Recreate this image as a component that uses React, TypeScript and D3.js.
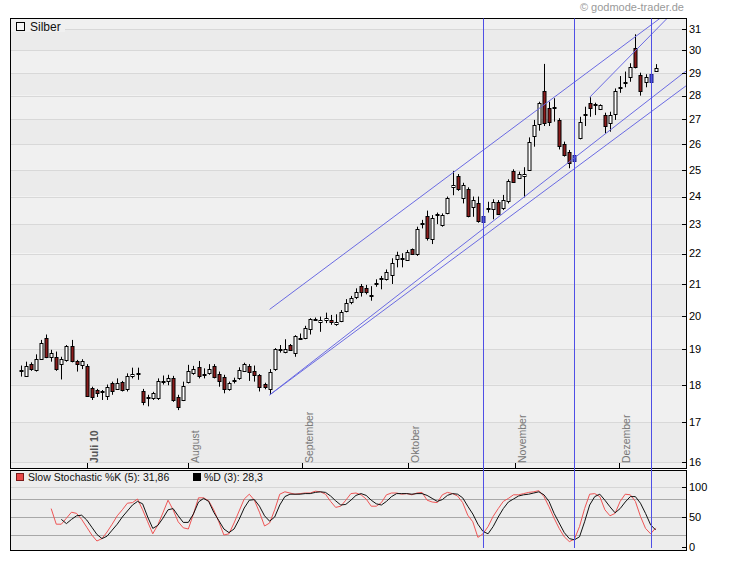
import React from 'react';
import * as d3 from 'd3';

const opens = [18.39,18.26,18.58,18.42,18.72,19.34,18.78,18.78,18.58,18.70,19.11,18.67,18.56,18.53,17.91,17.86,17.81,17.71,18.04,17.89,18.07,17.88,18.26,18.31,17.84,17.66,17.63,17.63,18.08,18.11,18.18,17.68,17.59,18.09,18.32,18.49,18.29,18.34,18.53,18.30,18.23,17.88,18.13,18.20,18.40,18.53,18.39,18.28,18.02,17.88,18.44,19.00,18.94,19.13,18.91,19.33,19.33,19.59,19.89,19.81,19.88,19.88,19.75,19.85,20.15,20.44,20.60,20.93,20.86,20.64,21.01,21.17,21.15,21.28,21.82,21.83,21.78,22.15,21.97,23.03,23.30,22.48,23.36,22.98,23.39,24.34,24.77,23.96,24.27,23.63,23.78,23.10,23.56,23.55,23.79,23.59,23.85,24.95,24.70,24.77,24.99,26.32,26.80,28.20,27.46,27.48,26.98,25.99,25.68,25.35,26.26,27.20,27.70,27.62,27.43,27.18,26.84,27.21,28.37,28.59,28.79,30.10,28.90,28.58,28.58,29.09];
const highs = [18.54,18.65,18.63,18.86,19.28,19.44,18.99,18.94,18.79,19.13,19.28,18.70,18.72,18.58,17.95,17.89,17.86,18.01,18.09,18.18,18.11,18.32,18.48,18.48,17.89,17.73,17.81,18.18,18.26,18.28,18.25,17.73,18.09,18.56,18.53,18.67,18.46,18.58,18.58,18.37,18.28,18.09,18.20,18.49,18.62,18.58,18.54,18.30,18.06,18.44,19.04,19.13,19.30,19.16,19.42,19.47,19.70,19.93,19.95,19.98,20.10,20.03,20.05,20.18,20.52,20.62,20.86,21.00,20.97,20.93,21.15,21.26,21.47,21.84,22.06,22.01,22.12,22.17,22.92,23.16,23.49,23.33,23.42,23.39,24.00,24.96,24.84,24.51,24.34,24.00,24.00,23.32,23.81,23.90,23.87,24.06,24.64,25.02,24.93,25.10,26.27,26.98,27.74,29.39,27.74,27.89,27.05,26.10,25.77,25.60,27.11,27.53,27.93,27.70,27.63,27.28,27.32,28.31,28.85,29.05,29.42,30.75,29.00,28.93,28.96,29.38];
const lows = [18.23,18.23,18.39,18.37,18.70,18.75,18.65,18.39,18.15,18.65,18.63,18.37,18.44,17.68,17.59,17.67,17.59,17.59,17.73,17.86,17.82,17.82,18.18,18.14,17.45,17.42,17.59,17.59,18.01,17.99,17.54,17.32,17.56,18.04,18.28,18.18,18.18,18.28,18.18,17.95,17.77,17.84,18.04,18.14,18.37,18.11,18.09,17.82,17.88,17.73,18.39,18.91,18.89,18.96,18.79,19.28,19.30,19.44,19.85,19.52,19.78,19.73,19.70,19.81,20.11,20.36,20.52,20.60,20.67,20.47,20.91,20.83,21.11,21.00,21.54,21.54,21.75,21.95,21.92,22.86,22.44,22.32,23.01,22.92,23.36,24.05,24.21,23.75,23.25,23.27,23.06,23.08,23.42,23.18,23.33,23.51,23.75,24.51,24.65,23.97,24.97,25.90,26.54,26.73,26.73,26.91,25.79,25.51,25.06,25.33,26.19,26.73,27.11,27.18,27.39,26.43,26.50,26.98,28.12,28.36,28.60,29.19,28.00,28.36,28.56,29.09];
const closes = [18.41,18.54,18.44,18.74,19.18,18.78,18.89,18.44,18.72,19.11,18.67,18.58,18.68,17.71,17.68,17.77,17.82,17.95,17.82,18.04,17.86,18.26,18.29,18.33,17.54,17.68,17.77,18.11,18.10,18.20,17.59,17.41,17.97,18.39,18.44,18.25,18.30,18.44,18.21,18.11,17.88,18.06,18.14,18.42,18.58,18.37,18.28,17.95,17.93,18.35,19.01,19.02,19.02,18.99,19.39,19.35,19.63,19.90,19.90,19.88,19.95,19.80,19.83,20.13,20.41,20.55,20.74,20.75,20.75,20.66,21.03,21.19,21.39,21.67,21.95,21.85,22.04,22.00,22.84,23.04,22.52,23.24,23.37,23.33,23.94,24.43,24.27,24.43,23.30,23.87,23.12,23.30,23.58,23.81,23.37,23.87,24.58,24.55,24.83,24.86,26.07,26.77,27.67,26.84,26.88,27.50,25.93,25.57,25.25,25.57,26.91,27.22,27.49,27.64,27.60,26.73,27.18,28.21,28.39,28.61,29.24,29.24,28.21,28.82,28.94,29.22];

// Slow stochastic, %K (5) starts at candle index 6, %D (3) at index 8
const K_START = 6;
const stochK = [64,38,38,48,58,56,46,33,20,10,14,25,38,52,62,73,74,80,62,42,22,37,57,78,62,42,32,30,55,82,82,77,62,42,20,22,40,60,80,88,78,58,35,40,62,88,92,90,88,89,
  90,90,93,92,88,76,66,68,78,89,90,87,80,68,68,74,87,90,90,88,89,87,90,91,78,
  75,74,87,91,89,85,74,53,42,16,22,34,51,64,76,81,87,87,89,91,92,94,84,67,48,31,17,9,13,34,64,88,89,84,62,52,56,76,88,87,76,51,31,22,31.86];
const D_START = 8;
const stochD = [46,39,46,52,53,45,33,21,14,18,28,38,50,60,70,76,72,50,31,36,48,62,64,52,41,41,55,75,81,76,58,44,30,24,30,46,65,78,79,68,52,43,50,70,84,88,88,88,
  89,89,91,92,91,85,77,70,71,78,86,89,86,78,72,70,76,84,89,89,89,88,89,89,86,
  81,76,79,86,89,88,82,68,55,38,26,22,34,50,64,75,80,85,87,88,90,92,87,76,56,40,24,14,12,17,42,70,84,88,78,67,57,64,75,84,84,73,56,37,28.3];

const priceTicks = [16,17,18,19,20,21,22,23,24,25,26,27,28,29,30,31];
const stochTicks = [0,50,100];
const stochGrid = [20,50,80];
const monthTicks = [
  { label: 'Juli 10', idx: 13.0, bold: true },
  { label: 'August', idx: 33.0, bold: false },
  { label: 'September', idx: 55.4, bold: false },
  { label: 'Oktober', idx: 76.3, bold: false },
  { label: 'November', idx: 97.3, bold: false },
  { label: 'Dezember', idx: 117.8, bold: false },
];
// trend lines: [startIndex, startPrice, endIndex, endPrice]
const trendLines = [
  [49, 20.2, 125.9, 31.52],
  [49, 17.725, 130.96, 29.07],
  [49, 17.725, 130.96, 28.42],
  [112, 27.93, 127.3, 31.52],
];
const markerIdx = [91, 109, 124];

const FONT = '"Liberation Sans", Arial, sans-serif';

export default function App() {
  const L = 10.5, R = 686.5;
  const mT = 18.5, mB = 468.5;
  const sT = 470.5, sB = 550.5;
  const x = d3.scaleLinear().domain([0, 125]).range([20.7, 655.7]);
  const y = d3.scaleLog().domain([16, 31]).range([462, 29]);
  const ys = d3.scaleLinear().domain([0, 100]).range([547, 487]);

  const bands = [];
  const bandEdges = [y.invert(mT), ...priceTicks.slice().reverse()];
  for (let i = 0; i < bandEdges.length; i++) {
    const top = i === 0 ? mT : y(bandEdges[i]);
    const bot = i + 1 < bandEdges.length ? y(bandEdges[i + 1]) : mB;
    bands.push(<rect key={'b' + i} x={L} y={top} width={R - L} height={bot - top} fill={i % 2 === 0 ? '#f0f0f0' : '#ebebeb'} />);
  }

  const kLine = d3.line<number>().x((_, i) => x(i + K_START)).y((d) => ys(d));
  const dLine = d3.line<number>().x((_, i) => x(i + D_START)).y((d) => ys(d));

  const candles = opens.map((o, i) => {
    const c = closes[i];
    const h = highs[i];
    const l = lows[i];
    const cx = Math.round(x(i)) + 0.5;
    const t = Math.round(y(Math.max(o, c)));
    const b = Math.round(y(Math.min(o, c)));
    const mark = markerIdx.includes(i);
    const fill = mark ? '#4050d0' : c >= o ? '#ffffff' : '#8c1c1c';
    return (
      <g key={'c' + i}>
        <line x1={cx} x2={cx} y1={y(h)} y2={y(l)} stroke="#000" strokeWidth={1} />
        <rect x={cx - 1.5} y={t + 0.5} width={3} height={Math.max(b - t, 1)} fill={fill} stroke={mark ? '#20208a' : '#000'} strokeWidth={1} />
      </g>
    );
  });

  return (
    <svg width={730} height={561} style={{ position: 'absolute', left: 0, top: 0, background: '#fff' }} fontFamily={FONT}>
      <defs>
        <clipPath id="mainClip"><rect x={L} y={mT} width={R - L} height={mB - mT} /></clipPath>
        <clipPath id="stClip"><rect x={L} y={sT} width={R - L} height={sB - sT} /></clipPath>
      </defs>
      <text x={684} y={11} textAnchor="end" fontSize={11} fill="#9a9a9a">© godmode-trader.de</text>

      {/* main panel */}
      {bands}
      {priceTicks.map((p) => (
        <line key={'g' + p} x1={L} x2={R} y1={Math.round(y(p)) + 0.5} y2={Math.round(y(p)) + 0.5} stroke="#d8d8d8" />
      ))}
      <rect x={L + 0.5} y={mT + 0.5} width={54} height={13} fill="#f0f0f0" />
      <rect x={16.5} y={22.5} width={8} height={8} fill="#f6f6f6" stroke="#000" />
      <text x={30} y={31} fontSize={12} fill="#111">Silber</text>

      {monthTicks.map((m) => {
        const tx = Math.round(x(m.idx)) + 0.5;
        return (
          <g key={m.label}>
            <line x1={tx} x2={tx} y1={463} y2={mB} stroke="#000" />
            <text transform={`translate(${tx + 10},463) rotate(-90)`} fontSize={10.5} fontWeight={m.bold ? 'bold' : 'normal'} fill={m.bold ? '#555' : '#777'}>{m.label}</text>
          </g>
        );
      })}

      <g>{candles}</g>

      <g clipPath="url(#mainClip)">
        {trendLines.map((t, i) => (
          <line key={'t' + i} x1={x(t[0])} y1={y(t[1])} x2={x(t[2])} y2={y(t[3])} stroke="#6a6ae2" strokeWidth={1} />
        ))}
      </g>

      <rect x={L} y={mT} width={R - L} height={mB - mT} fill="none" stroke="#000" />
      {priceTicks.map((p) => (
        <g key={'yt' + p}>
          <line x1={682} x2={R} y1={Math.round(y(p)) + 0.5} y2={Math.round(y(p)) + 0.5} stroke="#000" />
          <text x={689} y={y(p)} dy="0.35em" fontSize={11} fill="#000">{p}</text>
        </g>
      ))}

      {/* stochastic panel */}
      <rect x={L} y={sT} width={R - L} height={sB - sT} fill="#ededed" />
      {stochGrid.map((v) => (
        <line key={'sg' + v} x1={L} x2={R} y1={Math.round(ys(v)) + 0.5} y2={Math.round(ys(v)) + 0.5} stroke="#a8a8a8" />
      ))}
      <line x1={L} x2={R} y1={Math.round(ys(100)) + 0.5} y2={Math.round(ys(100)) + 0.5} stroke="#d6d6d6" />
      <g clipPath="url(#stClip)">
        <path d={kLine(stochK) || ''} fill="none" stroke="#ee5555" strokeWidth={1} />
        <path d={dLine(stochD) || ''} fill="none" stroke="#111" strokeWidth={1} />
      </g>
      <rect x={16.5} y={473.5} width={7} height={7} fill="#e84848" stroke="#7a1a1a" />
      <text x={28} y={481} fontSize={10.5} fill="#111">Slow Stochastic %K (5): 31,86</text>
      <rect x={193.5} y={473.5} width={7} height={7} fill="#000" stroke="#000" />
      <text x={204} y={481} fontSize={10.5} fill="#111">%D (3): 28,3</text>
      <rect x={L} y={sT} width={R - L} height={sB - sT} fill="none" stroke="#000" />
      {stochTicks.map((v) => (
        <g key={'st' + v}>
          <line x1={682} x2={R} y1={Math.round(ys(v)) + 0.5} y2={Math.round(ys(v)) + 0.5} stroke="#000" />
          <text x={689} y={ys(v)} dy="0.35em" fontSize={11} fill="#000">{v}</text>
        </g>
      ))}

      {/* vertical marker lines */}
      {markerIdx.map((i) => (
        <line key={'v' + i} x1={Math.round(x(i)) + 0.5} x2={Math.round(x(i)) + 0.5} y1={mT} y2={548} stroke="#4f4fe6" strokeWidth={1} />
      ))}
    </svg>
  );
}
